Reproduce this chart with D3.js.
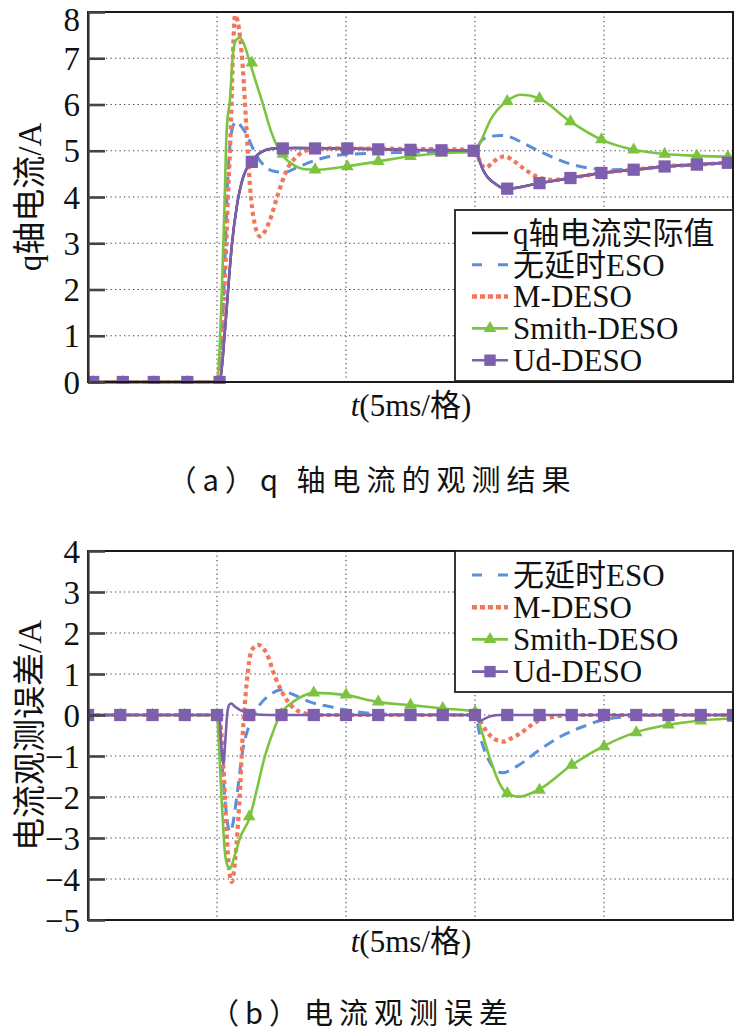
<!DOCTYPE html>
<html><head><meta charset="utf-8">
<script src="https://cdnjs.cloudflare.com/ajax/libs/d3/7.8.5/d3.min.js"></script>
<style>
html,body{margin:0;padding:0;background:#fff;}
svg{display:block;}
</style></head>
<body>
<script>
// ---------------- DATA (x in divisions of 5 ms, y in A) ----------------
// Panel (a): q-axis current observations
const actualA = [[0,0],[1.0,0],[1.023,0.04],[1.062,1.13],[1.088,2.06],[1.114,2.93],[1.153,3.79],[1.204,4.44],[1.256,4.73],[1.333,4.95],[1.437,5.05],[1.6,5.06],[2.0,5.05],[2.5,5.02],[3.0,5.0],[3.03,4.82],[3.06,4.6],[3.1,4.42],[3.15,4.3],[3.2,4.21],[3.25,4.18],[3.5,4.3],[3.74,4.41],[3.98,4.52],[4.23,4.59],[4.47,4.66],[4.72,4.70],[5.0,4.75]];
const esoA = [[0,0],[1.0,0],[1.03,0.5],[1.06,2.5],[1.08,4.2],[1.10,5.1],[1.12,5.5],[1.15,5.63],[1.19,5.52],[1.23,5.35],[1.27,5.1],[1.31,4.88],[1.385,4.63],[1.45,4.55],[1.52,4.53],[1.62,4.64],[1.77,4.8],[1.95,4.91],[2.5,4.97],[3.0,5.0],[3.05,5.22],[3.12,5.31],[3.2,5.33],[3.28,5.29],[3.37,5.17],[3.53,4.95],[3.68,4.77],[3.87,4.63],[4.05,4.59],[4.25,4.6],[4.5,4.66],[4.75,4.71],[5.0,4.75]];
const mdesoA = [[0,0],[1.0,0],[1.03,0.8],[1.06,2.2],[1.085,4.0],[1.11,5.74],[1.125,7.2],[1.14,7.93],[1.16,7.8],[1.20,6.8],[1.23,5.4],[1.256,4.23],[1.29,3.45],[1.333,3.15],[1.37,3.25],[1.41,3.5],[1.475,4.08],[1.54,4.58],[1.62,4.88],[1.72,5.02],[1.9,5.05],[2.5,5.04],[3.0,5.02],[3.04,4.75],[3.08,4.63],[3.15,4.78],[3.23,4.88],[3.3,4.78],[3.37,4.63],[3.48,4.44],[3.6,4.37],[3.74,4.41],[3.98,4.52],[4.23,4.59],[4.47,4.66],[4.72,4.70],[5.0,4.75]];
const smithA = [[0,0],[1.0,0],[1.036,1.85],[1.06,4.0],[1.075,5.45],[1.10,6.1],[1.127,7.19],[1.15,7.4],[1.178,7.44],[1.21,7.3],[1.256,6.9],[1.30,6.5],[1.346,6.1],[1.424,5.38],[1.49,4.97],[1.59,4.7],[1.68,4.6],[1.76,4.59],[2.0,4.66],[2.25,4.77],[2.5,4.88],[2.75,4.95],[3.0,4.98],[3.04,5.17],[3.12,5.67],[3.245,6.07],[3.36,6.21],[3.49,6.14],[3.74,5.63],[3.98,5.24],[4.23,5.02],[4.47,4.93],[4.72,4.89],[5.0,4.87]];
const udA = [[0,0],[1.0,0],[1.023,0.04],[1.062,1.13],[1.088,2.06],[1.114,2.93],[1.153,3.79],[1.204,4.44],[1.256,4.73],[1.333,4.95],[1.437,5.05],[1.6,5.06],[2.0,5.05],[2.5,5.02],[3.0,5.0],[3.03,4.82],[3.06,4.6],[3.1,4.42],[3.15,4.3],[3.2,4.21],[3.25,4.18],[3.5,4.3],[3.74,4.41],[3.98,4.52],[4.23,4.59],[4.47,4.66],[4.72,4.70],[5.0,4.75]];
const markTimesA = [0.04,0.27,0.51,0.77,1.02,1.27,1.51,1.76,2.01,2.25,2.5,2.74,2.99,3.25,3.5,3.74,3.98,4.23,4.47,4.72,4.96];
const smithMarksA = [0,0,0,0,0,6.9,4.93,4.59,4.66,4.77,4.88,4.95,4.98,6.07,6.13,5.63,5.24,5.02,4.93,4.89,4.87];
const udMarksA = [0,0,0,0,0,4.76,5.05,5.05,5.05,5.03,5.02,5.01,5.0,4.18,4.3,4.41,4.52,4.59,4.66,4.70,4.74];

// Panel (b): current observation errors
const esoB = [[0,0],[1.0,0],[1.03,-0.8],[1.06,-2.0],[1.085,-2.7],[1.10,-2.85],[1.12,-2.7],[1.15,-2.07],[1.20,-0.85],[1.256,-0.2],[1.32,0.2],[1.41,0.49],[1.49,0.61],[1.59,0.5],[1.72,0.32],[1.88,0.2],[2.0,0.12],[2.16,0.05],[2.4,0.01],[3.0,0],[3.04,-0.53],[3.12,-1.18],[3.21,-1.41],[3.32,-1.26],[3.5,-0.85],[3.66,-0.53],[3.84,-0.28],[3.99,-0.12],[4.2,-0.04],[4.5,0],[5.0,0]];
const mdesoB = [[0,0],[1.0,0],[1.03,-0.3],[1.05,-1.26],[1.075,-2.9],[1.095,-3.8],[1.114,-4.07],[1.13,-3.85],[1.15,-3.2],[1.18,-1.75],[1.20,-0.45],[1.23,0.77],[1.27,1.59],[1.32,1.71],[1.385,1.5],[1.45,0.93],[1.54,0.37],[1.64,0.08],[1.77,0],[3.0,0],[3.05,-0.2],[3.09,-0.4],[3.15,-0.58],[3.22,-0.65],[3.28,-0.57],[3.35,-0.45],[3.48,-0.16],[3.6,-0.05],[3.75,0],[5.0,0]];
const smithB = [[0,0],[1.0,0],[1.01,-0.45],[1.036,-2.07],[1.062,-3.37],[1.085,-3.7],[1.10,-3.74],[1.14,-3.4],[1.178,-3.0],[1.256,-2.48],[1.295,-2.0],[1.372,-1.0],[1.43,-0.45],[1.488,0.0],[1.59,0.32],[1.67,0.47],[1.75,0.54],[1.99,0.49],[2.24,0.32],[2.5,0.24],[2.75,0.16],[3.0,0.08],[3.04,-0.28],[3.12,-1.1],[3.19,-1.67],[3.245,-1.91],[3.34,-1.99],[3.49,-1.83],[3.75,-1.22],[3.99,-0.77],[4.24,-0.43],[4.5,-0.24],[4.74,-0.14],[5.0,-0.08]];
const udB = [[0,0],[1.0,0],[1.02,-0.1],[1.035,-0.8],[1.05,-1.2],[1.065,-0.6],[1.08,0.05],[1.095,0.25],[1.11,0.28],[1.14,0.2],[1.18,0.12],[1.26,0.03],[1.4,0],[3.0,0],[3.03,-0.16],[3.07,-0.1],[3.12,-0.03],[3.2,0],[5.0,0]];
const markTimesB = [0,0.25,0.5,0.75,1.0,1.25,1.5,1.75,2.0,2.25,2.5,2.75,3.0,3.25,3.5,3.75,4.0,4.25,4.5,4.75,5.0];
const smithMarksB = [0,0,0,0,0,-2.48,0.02,0.54,0.49,0.32,0.24,0.16,0.08,-1.91,-1.83,-1.22,-0.77,-0.43,-0.24,-0.14,-0.08];
const udMarksB = [0,0,0,0,0,0,0,0,0,0,0,0,0,0,0,0,0,0,0,0,0];

const yTicksA = [0,1,2,3,4,5,6,7,8];
const yTicksB = [-5,-4,-3,-2,-1,0,1,2,3,4];
const xGrid = [1,2,3,4];

const namesA = ["q轴电流实际值","无延时ESO","M-DESO","Smith-DESO","Ud-DESO"];
const namesB = ["无延时ESO","M-DESO","Smith-DESO","Ud-DESO"];
const yTitleA = "q轴电流/A";
const yTitleB = "电流观测误差/A";
const captionA = "（a）q 轴电流的观测结果";
const captionB = "（b）电流观测误差";

// ---------------- STYLES ----------------
const STY = {
  actual: {stroke:"#111111", width:2.4, dash:null},
  eso:    {stroke:"#5a8fdc", width:3, dash:"11,7", legDash:"10,16"},
  mdeso:  {stroke:"#f2775a", width:4.2, dash:"4.2,3.6", legDash:"5,3"},
  smith:  {stroke:"#7cc43f", width:2.6, dash:null},
  ud:     {stroke:"#7e5fae", width:2.6, dash:null}
};
const SERIF = "'Liberation Serif','Times New Roman','Noto Sans CJK SC',serif";
const CJK = "'Noto Sans CJK SC','Liberation Serif',sans-serif";

const svg = d3.select("body").append("svg").attr("width",737).attr("height",1036);

function panel(cfg){
  const x = d3.scaleLinear().domain([0,5]).range([88,733]);
  const y = d3.scaleLinear().domain(cfg.ydom).range(cfg.yrange);
  const g = svg.append("g");
  const x0=x.range()[0], x1=x.range()[1], yTop=y.range()[1], yBot=y.range()[0];
  const cid = "clip"+cfg.id;
  svg.append("clipPath").attr("id",cid).append("rect")
    .attr("x",x0).attr("y",yTop-2).attr("width",x1-x0).attr("height",yBot-yTop+4);

  // grid
  const grid = g.append("g").attr("stroke","#444").attr("stroke-width",1.1).attr("stroke-dasharray","1.3,3.2");
  grid.selectAll("line.h").data(cfg.yticks.filter(v=>v>cfg.ydom[0] && v<cfg.ydom[1])).join("line")
    .attr("x1",x0).attr("x2",x1).attr("y1",d=>y(d)).attr("y2",d=>y(d));
  grid.selectAll("line.v").data(xGrid).join("line")
    .attr("y1",yTop).attr("y2",yBot).attr("x1",d=>x(d)).attr("x2",d=>x(d));

  // series
  const line = d3.line().x(d=>x(d[0])).y(d=>y(d[1])).curve(d3.curveMonotoneX);
  const sg = g.append("g").attr("clip-path",`url(#${cid})`);
  cfg.series.forEach(s=>{
    const st = STY[s.key];
    sg.append("path").datum(s.data).attr("d",line).attr("fill","none")
      .attr("stroke",st.stroke).attr("stroke-width",st.width)
      .attr("stroke-dasharray",st.dash).attr("stroke-linejoin","round");
    if(s.marks){
      const sym = d3.symbol().type(s.key==="smith"?d3.symbolTriangle:d3.symbolSquare).size(s.key==="smith"?70:150);
      sg.selectAll(null).data(s.marks.map((v,i)=>[cfg.markT[i],v])).join("path")
        .attr("d",sym).attr("transform",d=>`translate(${x(d[0])},${y(d[1])})`)
        .attr("fill",st.stroke);
    }
  });

  // frame
  g.append("rect").attr("x",x0).attr("y",yTop).attr("width",x1-x0).attr("height",yBot-yTop)
    .attr("fill","none").attr("stroke","#1a1a1a").attr("stroke-width",2);

  // y axis with inner ticks
  const ax = g.append("g").attr("transform",`translate(${x0},0)`)
    .call(d3.axisLeft(y).tickValues(cfg.yticks).tickSizeInner(-17).tickSizeOuter(0).tickPadding(8).tickFormat(d3.format("d")));
  ax.attr("font-family",SERIF);
  ax.select(".domain").attr("stroke","#333").attr("stroke-width",2.2);
  ax.selectAll(".tick line").attr("stroke","#444").attr("stroke-width",2.6);
  ax.selectAll(".tick text").attr("font-family",SERIF).attr("font-size",33).attr("fill","#111")
    .attr("dy",d=>(d===cfg.ydom[1] && yTop<30)?"0.56em":"0.34em");

  // axis titles
  svg.append("text").attr("transform",`translate(${cfg.ytitleX},${(yTop+yBot)/2}) rotate(-90)`)
    .attr("text-anchor","middle").attr("dy","0.36em").attr("font-family",SERIF).attr("font-size",cfg.ytitleSize).attr("fill","#111")
    .text(cfg.ytitle);
  const xl = svg.append("text").attr("x",411).attr("y",cfg.xlabelY).attr("text-anchor","middle")
    .attr("font-family",SERIF).attr("font-size",31).attr("fill","#111");
  xl.append("tspan").attr("font-style","italic").text("t");
  xl.append("tspan").text("(5ms/格)");

  // legend
  const L = cfg.legend;
  const lg = svg.append("g");
  lg.append("rect").attr("x",L.x).attr("y",L.y).attr("width",L.w).attr("height",L.h)
    .attr("fill","#fff").attr("stroke","#222").attr("stroke-width",1.8);
  L.items.forEach((it,i)=>{
    const cy = L.y0 + i*L.step;
    const st = STY[it.key];
    lg.append("line").attr("x1",472).attr("x2",508).attr("y1",cy).attr("y2",cy)
      .attr("stroke",st.stroke).attr("stroke-width",it.key==="mdeso"?4.5:st.width)
      .attr("stroke-dasharray",st.legDash||null);
    if(it.key==="smith"||it.key==="ud"){
      const sym = d3.symbol().type(it.key==="smith"?d3.symbolTriangle:d3.symbolSquare).size(it.key==="smith"?70:130);
      lg.append("path").attr("d",sym).attr("transform",`translate(490,${cy})`).attr("fill",st.stroke);
    }
    lg.append("text").attr("x",513).attr("y",cy).attr("dy","0.35em")
      .attr("font-family",SERIF).attr("font-size",31).attr("fill","#111").text(it.name);
  });

  // caption
  svg.append("text").attr("x",cfg.capX).attr("y",cfg.capY).attr("text-anchor","middle")
    .attr("font-family",CJK).attr("font-size",29).attr("letter-spacing",cfg.capSpacing).attr("fill","#111")
    .text(cfg.caption);
}

panel({
  id:"A", ydom:[0,8], yrange:[382,12], yticks:yTicksA, markT:markTimesA,
  series:[
    {key:"actual",data:actualA},
    {key:"eso",data:esoA},
    {key:"mdeso",data:mdesoA},
    {key:"smith",data:smithA,marks:smithMarksA},
    {key:"ud",data:udA,marks:udMarksA}
  ],
  ytitle:yTitleA, ytitleX:29, ytitleSize:33, xlabelY:416,
  legend:{x:455,y:210,w:278,h:171,y0:233,step:31.8,
    items:["actual","eso","mdeso","smith","ud"].map((k,i)=>({key:k,name:namesA[i]}))},
  caption:captionA, capX:372, capY:491, capSpacing:6
});

panel({
  id:"B", ydom:[-5,4], yrange:[920,551], yticks:yTicksB, markT:markTimesB,
  series:[
    {key:"eso",data:esoB},
    {key:"mdeso",data:mdesoB},
    {key:"smith",data:smithB,marks:smithMarksB},
    {key:"ud",data:udB,marks:udMarksB}
  ],
  ytitle:yTitleB, ytitleX:29, ytitleSize:33, xlabelY:952,
  legend:{x:455,y:551,w:278,h:141,y0:575,step:32.2,
    items:["eso","mdeso","smith","ud"].map((k,i)=>({key:k,name:namesB[i]}))},
  caption:captionB, capX:362, capY:1024, capSpacing:6
});
</script>
</body></html>
